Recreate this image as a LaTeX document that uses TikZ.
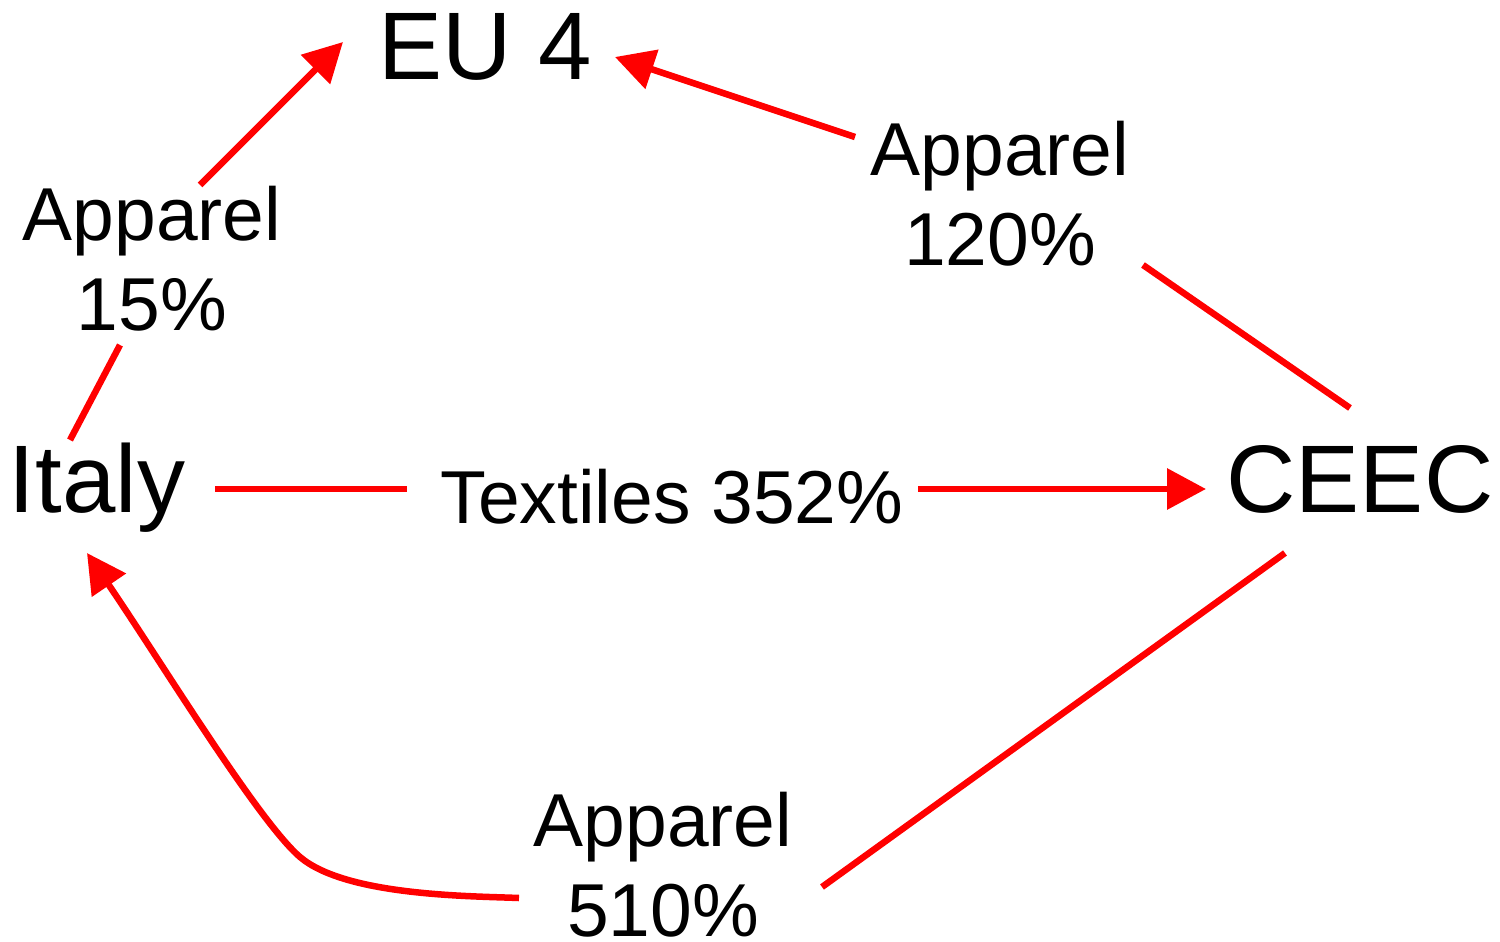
\documentclass[tikz,border=0pt]{standalone}
\usepackage{fontspec}
\setmainfont{Liberation Sans}
\usetikzlibrary{arrows.meta}

\tikzset{
  place/.style={inner sep=0pt, outer sep=0pt, anchor=base},
  bigname/.style={place, font=\fontsize{96}{115}\selectfont},
  flowlabel/.style={place, align=center, font=\fontsize{75}{90}\selectfont},
  flow/.style={draw=red, line width=6.5pt},
  flowtip/.style={flow, -{Triangle[length=39pt, width=40pt]}},
}

\begin{document}
\begin{tikzpicture}[x=1pt, y=-1pt]
  \useasboundingbox (0,0) rectangle (1500,942);

  % regions
  \node[bigname] (eu) at (485,80) {EU 4};
  \node[bigname] (italy) at (97,512) {Italy};
  \node[bigname] (ceec) at (1360,512) {CEEC};

  % flow labels (two-line labels sit on the baseline of their last line)
  \node[flowlabel] (textiles) at (672,523) {Textiles 352\%};
  \node[flowlabel] (ap15) at (152,330) {Apparel\\15\%};
  \node[flowlabel] (ap120) at (1000,265) {Apparel\\120\%};
  \node[flowlabel] (ap510) at (663,936) {Apparel\\510\%};

  % end points of the connector pieces
  \coordinate (italy-n) at (70,440);
  \coordinate (ap15-s) at (120,345);
  \coordinate (ap15-n) at (200,185);
  \coordinate (eu-w) at (343,42);

  \coordinate (ceec-n) at (1350,408);
  \coordinate (ap120-s) at (1143,265);
  \coordinate (ap120-w) at (855,137);
  \coordinate (eu-e) at (615,57);

  \coordinate (italy-e) at (215,489);
  \coordinate (textiles-w) at (407,489);
  \coordinate (textiles-e) at (918,489);
  \coordinate (ceec-w) at (1206,489);

  \coordinate (ceec-s) at (1285,553);
  \coordinate (ap510-e) at (822,887);
  \coordinate (ap510-w) at (519,898);
  \coordinate (italy-s) at (87,553);

  % Italy -> EU 4 (Apparel 15%)
  \draw[flow] (italy-n) -- (ap15-s);
  \draw[flowtip] (ap15-n) -- (eu-w);

  % CEEC -> EU 4 (Apparel 120%)
  \draw[flow] (ceec-n) -- (ap120-s);
  \draw[flowtip] (ap120-w) -- (eu-e);

  % Italy -> CEEC (Textiles 352%)
  \draw[flow] (italy-e) -- (textiles-w);
  \draw[flowtip] (textiles-e) -- (ceec-w);

  % CEEC -> Italy (Apparel 510%)
  \draw[flow] (ceec-s) -- (ap510-e);
  \draw[flowtip] (ap510-w) .. controls (470,896) and (346,896) .. (300,857)
                           .. controls (258,821) and (160,660) .. (italy-s);
\end{tikzpicture}
\end{document}
